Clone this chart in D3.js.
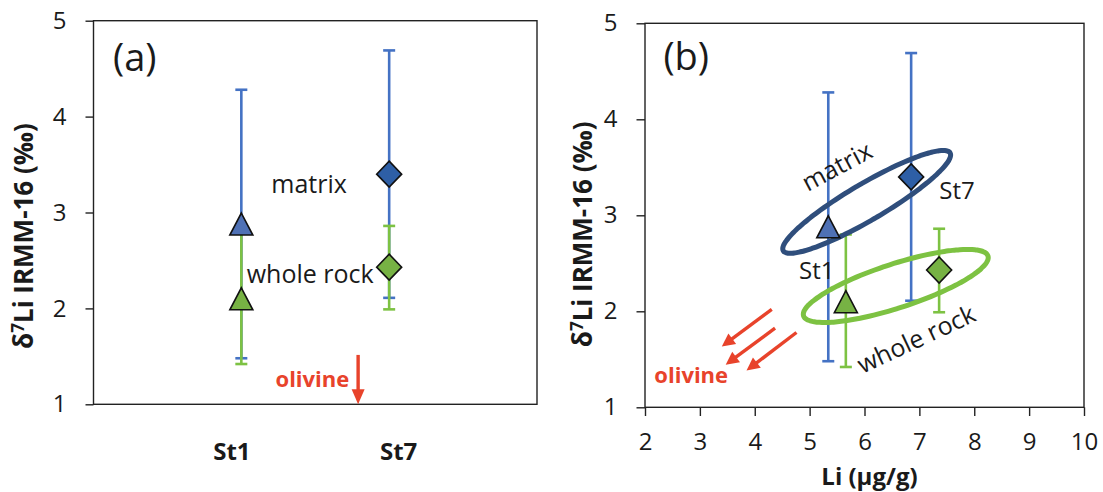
<!DOCTYPE html>
<html>
<head>
<meta charset="utf-8">
<script src="https://cdn.jsdelivr.net/npm/d3@7"></script>
<style>
  body { margin: 0; background: #fff; }
  svg text { font-family: "Open Sans", "Noto Sans", sans-serif; }
</style>
</head>
<body>
<svg id="chart" width="1103" height="492"></svg>
<script>
// ---- data -------------------------------------------------------------
const samples = ["St1", "St7"];

// matrix: δ7Li (‰) with the low / high ends of its uncertainty bar
const matrixD7Li = [2.88, 3.40];
const matrixLow  = [1.48, 2.11];
const matrixHigh = [4.28, 4.69];

// whole rock: δ7Li (‰) with the low / high ends of its uncertainty bar
const wholeRockD7Li = [2.10, 2.43];
const wholeRockLow  = [1.42, 1.99];
const wholeRockHigh = [2.80, 2.86];

// Li concentration (µg/g)
const matrixLi    = [5.34, 6.85];
const wholeRockLi = [5.66, 7.36];

const d7LiTicks = [1, 2, 3, 4, 5];
const liTicks   = [2, 3, 4, 5, 6, 7, 8, 9, 10];

// grouping fields in (b), in data units: centre and two half-axis vectors
const matrixFieldCentre    = [6.04, 3.14];
const matrixFieldAxes      = [[1.52, 0.51], [0.17, -0.164]];
const wholeRockFieldCentre = [6.57, 2.264];
const wholeRockFieldAxes   = [[1.68, 0.312], [0.124, -0.218]];

// olivine trend arrows in (b): [tail, head] in data units
const olivineArrows = [
  [[4.31, 2.02], [3.40, 1.633]],
  [[4.37, 1.825], [3.47, 1.443]],
  [[4.76, 1.779], [3.85, 1.383]]
];

// ---- styling ----------------------------------------------------------
const C = {
  axis: "#222",
  text: "#1a1a1a",
  matrixBar: "#4472C4",
  wholeBar: "#7DC243",
  matrixTri: "#4F71B5",
  matrixDia: "#2E5FA6",
  wholeFill: "#77B244",
  matrixField: "#2F4E7C",
  wholeField: "#7DC242",
  olivine: "#E8432B"
};

const svg = d3.select("#chart");

const A = { l: 93.5, r: 537, t: 20.7, b: 404.3 };
const B = { l: 645, r: 1084, t: 23.3, b: 407.3 };

const yA = d3.scaleLinear().domain([1, 5]).range([A.b, A.t]);
const xA = d3.scalePoint().domain(samples).range([A.l, A.r]).padding(1);
const xLabelA = d3.scalePoint().domain(samples).range([A.l, A.r]).padding(0.83);
const yB = d3.scaleLinear().domain([1, 5]).range([B.b, B.t]);
const xB = d3.scaleLinear().domain([2, 10]).range([B.l, B.r]);

// rows: one per marker
const rows = [];
samples.forEach((s, i) => {
  rows.push({ sample: s, kind: "matrix", li: matrixLi[i], v: matrixD7Li[i], lo: matrixLow[i], hi: matrixHigh[i] });
});
samples.forEach((s, i) => {
  rows.push({ sample: s, kind: "whole", li: wholeRockLi[i], v: wholeRockD7Li[i], lo: wholeRockLow[i], hi: wholeRockHigh[i] });
});

function markerPath(sample) {
  if (sample === "St1") {
    const hw = 11.5, hh = 11;
    return `M0,${-hh}L${hw},${hh}L${-hw},${hh}Z`;
  }
  const hw = 12.5, hh = 13;
  return `M0,${-hh}L${hw},0L0,${hh}L${-hw},0Z`;
}
function markerFill(d) {
  if (d.kind === "whole") return C.wholeFill;
  return d.sample === "St1" ? C.matrixTri : C.matrixDia;
}

function drawFrame(g, P) {
  g.append("rect")
    .attr("x", P.l).attr("y", P.t)
    .attr("width", P.r - P.l).attr("height", P.b - P.t)
    .attr("fill", "none").attr("stroke", C.axis).attr("stroke-width", 1.4);
}

function styleAxis(sel, size) {
  sel.attr("font-family", null).attr("font-size", null);
  sel.select(".domain").remove();
  sel.selectAll(".tick line").attr("stroke", C.axis).attr("stroke-width", 1.4);
  sel.selectAll(".tick text").attr("fill", C.text).style("font-size", size + "px");
}

function drawErrorBars(g, data, x, y) {
  const cap = 6;
  ["matrix", "whole"].forEach(kind => {
    const col = kind === "matrix" ? C.matrixBar : C.wholeBar;
    const eb = g.append("g").selectAll("g").data(data.filter(d => d.kind === kind)).join("g");
    eb.append("line")
      .attr("x1", d => x(d)).attr("x2", d => x(d))
      .attr("y1", d => y(d.lo)).attr("y2", d => y(d.hi))
      .attr("stroke", col).attr("stroke-width", 2.6);
    eb.append("line")
      .attr("x1", d => x(d) - cap).attr("x2", d => x(d) + cap)
      .attr("y1", d => y(d.lo)).attr("y2", d => y(d.lo))
      .attr("stroke", col).attr("stroke-width", 2.6);
    eb.append("line")
      .attr("x1", d => x(d) - cap).attr("x2", d => x(d) + cap)
      .attr("y1", d => y(d.hi)).attr("y2", d => y(d.hi))
      .attr("stroke", col).attr("stroke-width", 2.6);
  });
}

function drawMarkers(g, data, x, y) {
  g.append("g").selectAll("path").data(data).join("path")
    .attr("transform", d => `translate(${x(d)},${y(d.v)})`)
    .attr("d", d => markerPath(d.sample))
    .attr("fill", d => markerFill(d))
    .attr("stroke", "#111").attr("stroke-width", 1.6)
    .attr("stroke-linejoin", "miter");
}

function yTitle(g, x, y) {
  const t = g.append("text")
    .attr("transform", `translate(${x},${y}) rotate(-90)`)
    .attr("text-anchor", "middle")
    .attr("font-weight", 700).style("font-size", "26px")
    .attr("fill", C.text);
  t.append("tspan").text("δ");
  t.append("tspan").attr("dy", -9).style("font-size", "17px").text("7");
  t.append("tspan").attr("dy", 9).text("Li IRMM-16 (‰)");
}

function arrow(g, x1, y1, x2, y2, head, width) {
  const dx = x2 - x1, dy = y2 - y1, len = Math.hypot(dx, dy);
  const ux = dx / len, uy = dy / len;
  const bx = x2 - ux * head, by = y2 - uy * head;
  g.append("line")
    .attr("x1", x1).attr("y1", y1).attr("x2", bx + ux * 2).attr("y2", by + uy * 2)
    .attr("stroke", C.olivine).attr("stroke-width", 3.4);
  g.append("path")
    .attr("d", `M${x2},${y2}L${bx - uy * width},${by + ux * width}L${bx + uy * width},${by - ux * width}Z`)
    .attr("fill", C.olivine);
}

const intFmt = d3.format("d");

// ---- panel (a): δ7Li by sample ----------------------------------------
const ga = svg.append("g");
drawFrame(ga, A);
ga.append("g").attr("transform", `translate(${A.l},0)`)
  .call(d3.axisLeft(yA).tickValues(d7LiTicks).tickFormat(intFmt)
    .tickSizeInner(8).tickSizeOuter(0).tickPadding(19))
  .call(s => styleAxis(s, 24));

ga.append("g").selectAll("text").data(samples).join("text")
  .attr("x", d => xLabelA(d)).attr("y", A.b + 55.7)
  .attr("text-anchor", "middle").attr("font-weight", 700)
  .style("font-size", "24px").attr("fill", C.text)
  .text(d => d);

const xa = d => xA(d.sample);
drawErrorBars(ga, rows, xa, yA);
drawMarkers(ga, rows, xa, yA);

const between = d3.interpolate(xA("St1"), xA("St7"));
ga.append("text").attr("x", between(0.458)).attr("y", yA(3.2))
  .attr("text-anchor", "middle").style("font-size", "25px").attr("fill", C.text).text("matrix");
ga.append("text").attr("x", between(0.466)).attr("y", yA(2.26))
  .attr("text-anchor", "middle").style("font-size", "25px").attr("fill", C.text).text("whole rock");
ga.append("text").attr("x", between(0.73)).attr("y", yA(1.184))
  .attr("text-anchor", "end").attr("font-weight", 700).style("font-size", "22px")
  .attr("fill", C.olivine).text("olivine");
arrow(ga, between(0.79), yA(1.515), between(0.79), yA(1.0), 15, 6.5);

ga.append("text").attr("x", A.l + 19.5).attr("y", 71)
  .style("font-size", "38px").attr("fill", C.text).text("(a)");
yTitle(ga, A.l - 60.5, (A.t + A.b) / 2 + 23.5);

// ---- panel (b): δ7Li against Li concentration --------------------------
const gb = svg.append("g");
drawFrame(gb, B);
gb.append("g").attr("transform", `translate(${B.l},0)`)
  .call(d3.axisLeft(yB).tickValues(d7LiTicks).tickFormat(intFmt)
    .tickSizeInner(8.5).tickSizeOuter(0).tickPadding(19))
  .call(s => styleAxis(s, 24));
gb.append("g").attr("transform", `translate(0,${B.b})`)
  .call(d3.axisBottom(xB).tickValues(liTicks).tickFormat(intFmt)
    .tickSizeInner(8.7).tickSizeOuter(0).tickPadding(17))
  .call(s => styleAxis(s, 24));

gb.append("text").attr("x", (B.l + B.r) / 2 + 5).attr("y", 485)
  .attr("text-anchor", "middle").attr("font-weight", 700)
  .style("font-size", "24px").attr("fill", C.text).text("Li (μg/g)");

const xb = d => xB(d.li);
drawErrorBars(gb, rows, xb, yB);

function field(centre, axes, colour) {
  const pts = d3.range(0, 360, 3).map(a => {
    const t = a * Math.PI / 180, c = Math.cos(t), s = Math.sin(t);
    return [xB(centre[0] + axes[0][0] * c + axes[1][0] * s),
            yB(centre[1] + axes[0][1] * c + axes[1][1] * s)];
  });
  gb.append("path").attr("d", d3.line().curve(d3.curveCardinalClosed)(pts))
    .attr("fill", "none").attr("stroke", colour).attr("stroke-width", 5);
}
field(matrixFieldCentre, matrixFieldAxes, C.matrixField);
field(wholeRockFieldCentre, wholeRockFieldAxes, C.wholeField);

drawMarkers(gb, rows, xb, yB);

gb.append("text").attr("x", xB(7.686)).attr("y", yB(3.175))
  .attr("text-anchor", "middle").style("font-size", "24px").attr("fill", C.text).text("St7");
gb.append("text").attr("x", xB(5.129)).attr("y", yB(2.332))
  .attr("text-anchor", "middle").style("font-size", "24px").attr("fill", C.text).text("St1");
gb.append("text").attr("transform", `translate(${xB(5.572)},${yB(3.428)}) rotate(-28)`)
  .attr("text-anchor", "middle").style("font-size", "25px").attr("fill", C.text).text("matrix");
gb.append("text").attr("transform", `translate(${xB(7.011)},${yB(1.627)}) rotate(-25)`)
  .attr("text-anchor", "middle").style("font-size", "25px").attr("fill", C.text).text("whole rock");

olivineArrows.forEach(([tail, head]) => {
  arrow(gb, xB(tail[0]), yB(tail[1]), xB(head[0]), yB(head[1]), 13, 6.5);
});
gb.append("text").attr("x", xB(2.17)).attr("y", yB(1.25))
  .attr("font-weight", 700).style("font-size", "22px")
  .attr("fill", C.olivine).text("olivine");

gb.append("text").attr("x", B.l + 18.4).attr("y", 70)
  .style("font-size", "38px").attr("fill", C.text).text("(b)");
yTitle(gb, B.l - 53, (B.t + B.b) / 2 + 19);
</script>
</body>
</html>
